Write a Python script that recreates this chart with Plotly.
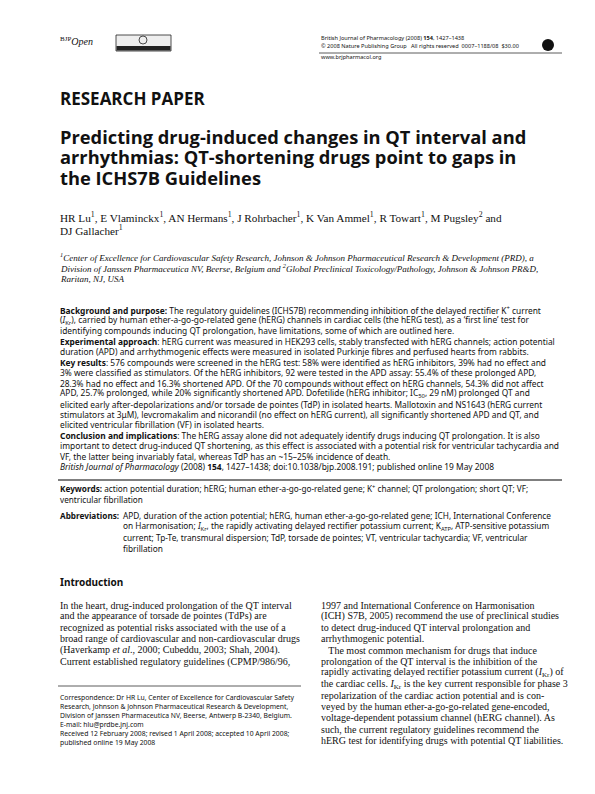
import plotly.graph_objects as go

# page text, line by line
header_right = ["British Journal of Pharmacology (2008) <b>154</b>, 1427–1438",
                "© 2008 Nature Publishing Group   All rights reserved  0007–1188/08  $30.00",
                "www.brjpharmacol.org"]
title_lines = ["Predicting drug-induced changes in QT interval and",
               "arrhythmias: QT-shortening drugs point to gaps in",
               "the ICHS7B Guidelines"]
author_lines = ["HR Lu<sup>1</sup>, E Vlaminckx<sup>1</sup>, AN Hermans<sup>1</sup>, J Rohrbacher<sup>1</sup>, K Van Ammel<sup>1</sup>, R Towart<sup>1</sup>, M Pugsley<sup>2</sup> and",
                "DJ Gallacher<sup>1</sup>"]
affil_lines = ["<sup>1</sup>Center of Excellence for Cardiovascular Safety Research, Johnson & Johnson Pharmaceutical Research & Development (PRD), a",
               "Division of Janssen Pharmaceutica NV, Beerse, Belgium and <sup>2</sup>Global Preclinical Toxicology/Pathology, Johnson & Johnson PR&D,",
               "Raritan, NJ, USA"]
abstract_lines = [
    "<b>Background and purpose:</b> The regulatory guidelines (ICHS7B) recommending inhibition of the delayed rectifier K<sup>+</sup> current",
    "(<i>I</i><sub>Kr</sub>), carried by human ether-a-go-go-related gene (hERG) channels in cardiac cells (the hERG test), as a ‘first line’ test for",
    "identifying compounds inducing QT prolongation, have limitations, some of which are outlined here.",
    "<b>Experimental approach</b>: hERG current was measured in HEK293 cells, stably transfected with hERG channels; action potential",
    "duration (APD) and arrhythmogenic effects were measured in isolated Purkinje fibres and perfused hearts from rabbits.",
    "<b>Key results</b>: 576 compounds were screened in the hERG test: 58% were identified as hERG inhibitors, 39% had no effect and",
    "3% were classified as stimulators. Of the hERG inhibitors, 92 were tested in the APD assay: 55.4% of these prolonged APD,",
    "28.3% had no effect and 16.3% shortened APD. Of the 70 compounds without effect on hERG channels, 54.3% did not affect",
    "APD, 25.7% prolonged, while 20% significantly shortened APD. Dofetilide (hERG inhibitor; IC<sub>50</sub>, 29 nM) prolonged QT and",
    "elicited early after-depolarizations and/or torsade de pointes (TdP) in isolated hearts. Mallotoxin and NS1643 (hERG current",
    "stimulators at 3μM), levcromakalim and nicorandil (no effect on hERG current), all significantly shortened APD and QT, and",
    "elicited ventricular fibrillation (VF) in isolated hearts.",
    "<b>Conclusion and implications</b>: The hERG assay alone did not adequately identify drugs inducing QT prolongation. It is also",
    "important to detect drug-induced QT shortening, as this effect is associated with a potential risk for ventricular tachycardia and",
    "VF, the latter being invariably fatal, whereas TdP has an ~15–25% incidence of death.",
    "<i>British Journal of Pharmacology</i> (2008) <b>154</b>, 1427–1438; doi:10.1038/bjp.2008.191; published online 19 May 2008"]
keyword_lines = ["<b>Keywords:</b> action potential duration; hERG; human ether-a-go-go-related gene; K<sup>+</sup> channel; QT prolongation; short QT; VF;",
                 "ventricular fibrillation"]
abbrev_lines = ["APD, duration of the action potential; hERG, human ether-a-go-go-related gene; ICH, International Conference",
                "on Harmonisation; <i>I</i><sub>Kr</sub>, the rapidly activating delayed rectifier potassium current; K<sub>ATP</sub>, ATP-sensitive potassium",
                "current; Tp-Te, transmural dispersion; TdP, torsade de pointes; VT, ventricular tachycardia; VF, ventricular",
                "fibrillation"]
left_col = ["In the heart, drug-induced prolongation of the QT interval",
            "and the appearance of torsade de pointes (TdPs) are",
            "recognized as potential risks associated with the use of a",
            "broad range of cardiovascular and non-cardiovascular drugs",
            "(Haverkamp <i>et al</i>., 2000; Cubeddu, 2003; Shah, 2004).",
            "Current established regulatory guidelines (CPMP/986/96,"]
corr_lines = ["Correspondence: Dr HR Lu, Center of Excellence for Cardiovascular Safety",
              "Research, Johnson & Johnson Pharmaceutical Research & Development,",
              "Division of Janssen Pharmaceutica NV, Beerse, Antwerp B-2340, Belgium.",
              "E-mail: hlu@prdbe.jnj.com",
              "Received 12 February 2008; revised 1 April 2008; accepted 10 April 2008;",
              "published online 19 May 2008"]
right_col = ["1997 and International Conference on Harmonisation",
             "(ICH) S7B, 2005) recommend the use of preclinical studies",
             "to detect drug-induced QT interval prolongation and",
             "arrhythmogenic potential.",
             "   The most common mechanism for drugs that induce",
             "prolongation of the QT interval is the inhibition of the",
             "rapidly activating delayed rectifier potassium current (<i>I</i><sub>Kr</sub>) of",
             "the cardiac cells. <i>I</i><sub>Kr</sub> is the key current responsible for phase 3",
             "repolarization of the cardiac action potential and is con-",
             "veyed by the human ether-a-go-go-related gene-encoded,",
             "voltage-dependent potassium channel (hERG channel). As",
             "such, the current regulatory guidelines recommend the",
             "hERG test for identifying drugs with potential QT liabilities."]

SANS = "Noto Sans"
SERIF = "Liberation Serif"
ann = []


def block(lines, x, y0, dy, size, family, color="#111", wrap=""):
    for i, t in enumerate(lines):
        if wrap:
            t = "<%s>%s</%s>" % (wrap, t, wrap)
        ann.append(dict(x=x, y=y0 + i * dy, text=t, xanchor="left", yanchor="middle",
                        showarrow=False, font=dict(size=size, family=family, color=color)))


block(["<sup>BJP</sup><i>Open</i>"], 50, 33, 0, 10, SERIF)
block(header_right[:2], 311, 30, 8, 5.6, SANS)
block(header_right[2:], 311, 49, 0, 5.6, SANS)
block(["RESEARCH PAPER"], 50, 90, 0, 17, "Open Sans", wrap="b")
block(title_lines, 50, 128, 20.5, 18.3, "Open Sans", wrap="b")
block(author_lines, 50, 209, 13, 11.2, SERIF)
block(affil_lines, 50, 249, 11, 9, SERIF, wrap="i")
block(abstract_lines, 50, 302, 10.45, 8.4, SANS)
block(keyword_lines, 50, 480, 11, 8.2, SANS)
block(["<b>Abbreviations:</b>"], 50, 507, 0, 8.2, SANS)
block(abbrev_lines, 113, 507, 11, 8.3, SANS)
block(["<b>Introduction</b>"], 50, 574, 0, 10, SANS)
block(left_col, 50, 597, 11.3, 10, SERIF)
block(corr_lines, 50, 689, 9, 6.8, SANS)
block(right_col, 311, 597, 11.3, 10, SERIF)

shapes = [
    dict(type="line", x0=311, x1=554, y0=45, y1=45, line=dict(color="#333", width=0.8)),
    dict(type="line", x0=50, x1=554, y0=472, y1=472, line=dict(color="#555", width=1.5)),
    dict(type="line", x0=50, x1=293, y0=678, y1=678, line=dict(color="#333", width=0.8)),
    dict(type="rect", x0=108, x1=163, y0=27, y1=43, line=dict(color="#222", width=0.8), fillcolor="#eee"),
    dict(type="rect", x0=108.5, x1=162.5, y0=38, y1=42.5, line=dict(width=0), fillcolor="#222"),
    dict(type="circle", x0=131, x1=139, y0=28, y1=36, line=dict(color="#222", width=0.8)),
    dict(type="circle", x0=534, x1=546, y0=31, y1=43, line=dict(width=0), fillcolor="#111"),
]

fig = go.Figure()
fig.update_layout(width=595, height=794, margin=dict(l=0, r=0, t=0, b=0),
                  paper_bgcolor="white", plot_bgcolor="white",
                  xaxis=dict(range=[0, 595], visible=False, fixedrange=True),
                  yaxis=dict(range=[794, 0], visible=False, fixedrange=True),
                  annotations=ann, shapes=shapes, showlegend=False)
fig.write_html("out.html")
